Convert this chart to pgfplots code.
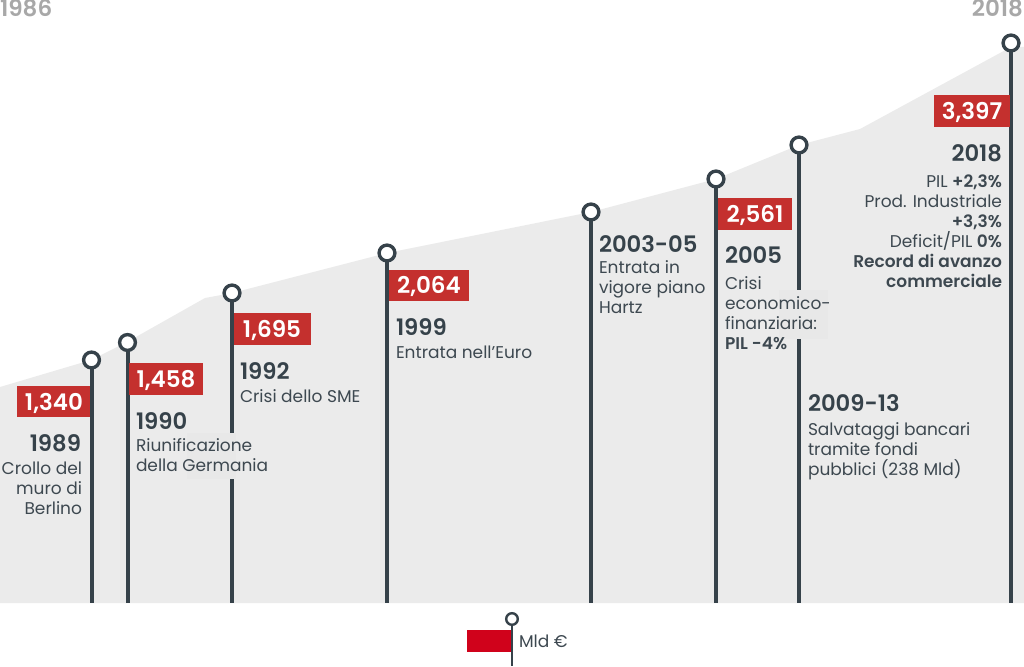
\documentclass[border=0pt]{standalone}
\usepackage{pgfplots}
\pgfplotsset{compat=1.18}
\usepackage{fontspec}
\setmainfont{Poppins}[BoldFont={Poppins SemiBold}]
\definecolor{areagrey}{HTML}{EBEBEB}
\definecolor{patchgrey}{HTML}{E8E8E8}
\definecolor{stem}{HTML}{36424A}
\definecolor{boxred}{HTML}{C4302E}
\definecolor{legred}{HTML}{D0021B}
\definecolor{txt}{HTML}{3D4850}
\definecolor{endyear}{HTML}{A8A8A8}
\newcommand{\yr}{\fontsize{22.7}{23}\selectfont\bfseries\color{stem}}
\newcommand{\bd}{\fontsize{17}{20}\selectfont\color{txt}}
\begin{document}
\begin{tikzpicture}[every node/.style={inner sep=0pt, outer sep=0pt}]
\begin{axis}[
  scale only axis, width=1024pt, height=666pt,
  xmin=0, xmax=1024, ymin=0, ymax=666, y dir=reverse,
  axis lines=none, clip=false,
]
% Area
\addplot[fill=areagrey, draw=none] coordinates {(0,603)(0,387)(91,360)(127,342)(205,298)(232,293)(387,253)(591,212)(716,179)(799,145)(860,129)(1011,47)(1024,47)(1024,603)} --cycle;
% Stems
\addplot[stem, line width=4pt] coordinates {(91.5,360)(91.5,603)};
\addplot[stem, line width=4pt] coordinates {(127.5,342)(127.5,603)};
\addplot[stem, line width=4pt] coordinates {(232,293)(232,603)};
\addplot[stem, line width=4pt] coordinates {(387,253)(387,603)};
\addplot[stem, line width=4pt] coordinates {(591,212)(591,603)};
\addplot[stem, line width=4pt] coordinates {(716,179)(716,603)};
\addplot[stem, line width=4pt] coordinates {(799,145)(799,603)};
\addplot[stem, line width=4pt] coordinates {(1011,43)(1011,603)};
% Circles
\addplot[only marks, mark=*, mark size=7.9pt, mark options={draw=stem, fill=white, line width=3.4pt}] coordinates {(91.5,360)(127.5,342.5)(232,293)(387,253)(591,212)(716,179)(799,145)(1011,43)};
% Legend marker
\addplot[stem, line width=2pt] coordinates {(512,619)(512,666)};
\addplot[only marks, mark=*, mark size=5.8pt, mark options={draw=stem, fill=white, line width=2.4pt}] coordinates {(512,619)};
\fill[legred] (axis cs:467,630) rectangle (axis cs:511,652);
% Lighter patches
\fill[patchgrey] (axis cs:187,433) rectangle (axis cs:236,479);
\fill[patchgrey] (axis cs:779,290) rectangle (axis cs:828,339);
% Value boxes
\fill[boxred] (axis cs:17,386) rectangle (axis cs:90,417);
\fill[boxred] (axis cs:129,363) rectangle (axis cs:203,395);
\fill[boxred] (axis cs:234,313) rectangle (axis cs:311,345);
\fill[boxred] (axis cs:389,270) rectangle (axis cs:469,301);
\fill[boxred] (axis cs:718,198) rectangle (axis cs:792,230);
\fill[boxred] (axis cs:934,95) rectangle (axis cs:1010,127);
\node[text=white, font=\fontsize{23}{23}\selectfont\bfseries, anchor=base] at (axis cs:54,410) {1,340};
\node[text=white, font=\fontsize{23}{23}\selectfont\bfseries, anchor=base] at (axis cs:166,387) {1,458};
\node[text=white, font=\fontsize{23}{23}\selectfont\bfseries, anchor=base] at (axis cs:272,337) {1,695};
\node[text=white, font=\fontsize{23}{23}\selectfont\bfseries, anchor=base] at (axis cs:429,293) {2,064};
\node[text=white, font=\fontsize{23}{23}\selectfont\bfseries, anchor=base] at (axis cs:755,222) {2,561};
\node[text=white, font=\fontsize{23}{23}\selectfont\bfseries, anchor=base] at (axis cs:972,119) {3,397};
% End years
\node[anchor=base west, text=endyear, font=\fontsize{23}{23}\selectfont\bfseries] at (axis cs:0,17) {1986};
\node[anchor=base east, text=endyear, font=\fontsize{23}{23}\selectfont\bfseries] at (axis cs:1023,17) {2018};
% Year labels
\node[anchor=base east] at (axis cs:81,451) {\yr 1989};
\node[anchor=base west] at (axis cs:136,429) {\yr 1990};
\node[anchor=base west] at (axis cs:240,379) {\yr 1992};
\node[anchor=base west] at (axis cs:396,335) {\yr 1999};
\node[anchor=base west] at (axis cs:599,252) {\yr 2003-05};
\node[anchor=base west] at (axis cs:725,263) {\yr 2005};
\node[anchor=base west] at (axis cs:808,411) {\yr 2009-13};
\node[anchor=base east] at (axis cs:1002,161) {\yr 2018};
% Body text
\node[anchor=base east] at (axis cs:82,474) {\bd Crollo del};
\node[anchor=base east] at (axis cs:82,494) {\bd muro di};
\node[anchor=base east] at (axis cs:82,514) {\bd Berlino};
\node[anchor=base west] at (axis cs:136,451) {\bd Riunificazione};
\node[anchor=base west] at (axis cs:136,471) {\bd della Germania};
\node[anchor=base west] at (axis cs:240,402) {\bd Crisi dello SME};
\node[anchor=base west] at (axis cs:396,358) {\bd Entrata nell’Euro};
\node[anchor=base west] at (axis cs:599,273) {\bd Entrata in};
\node[anchor=base west] at (axis cs:599,293) {\bd vigore piano};
\node[anchor=base west] at (axis cs:599,313) {\bd Hartz};
\node[anchor=base west] at (axis cs:725,289) {\bd Crisi};
\node[anchor=base west] at (axis cs:725,309) {\bd economico-};
\node[anchor=base west] at (axis cs:725,329) {\bd finanziaria:};
\node[anchor=base west] at (axis cs:725,349) {\bd \textbf{PIL -4\%}};
\node[anchor=base west] at (axis cs:808,435) {\bd Salvataggi bancari};
\node[anchor=base west] at (axis cs:808,455) {\bd tramite fondi};
\node[anchor=base west] at (axis cs:808,475) {\bd pubblici (238 Mld)};
\node[anchor=base east] at (axis cs:1002,187) {\bd PIL \textbf{+2,3\%}};
\node[anchor=base east] at (axis cs:1002,207) {\bd Prod. Industriale};
\node[anchor=base east] at (axis cs:1002,227) {\bd \textbf{+3,3\%}};
\node[anchor=base east] at (axis cs:1002,247) {\bd Deficit/PIL \textbf{0\%}};
\node[anchor=base east] at (axis cs:1002,267) {\bd \textbf{Record di avanzo}};
\node[anchor=base east] at (axis cs:1002,287) {\bd \textbf{commerciale}};
\node[anchor=base west] at (axis cs:519,647) {\bd Mld €};
\end{axis}
\pgfresetboundingbox
\path (current axis.south west) rectangle (current axis.north east);
\end{tikzpicture}
\end{document}
